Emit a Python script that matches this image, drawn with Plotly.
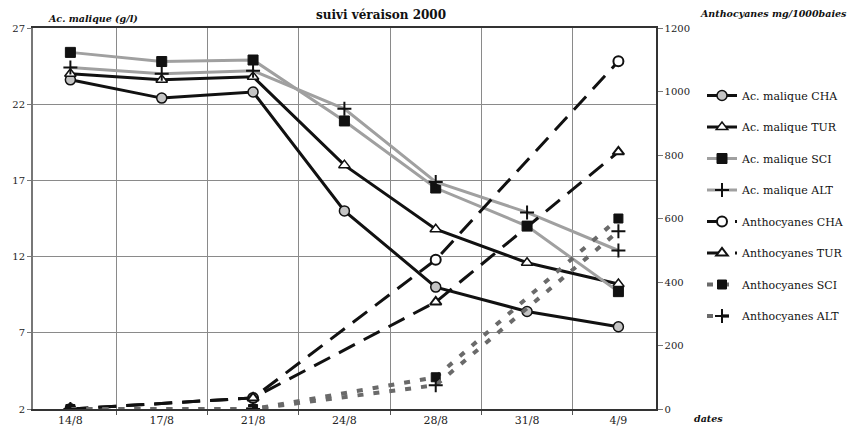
import plotly.graph_objects as go

dates = ["14/8", "17/8", "21/8", "24/8", "28/8", "31/8", "4/9"]

mal_CHA = [23.6, 22.4, 22.8, 15.0, 10.0, 8.4, 7.4]
mal_TUR = [24.0, 23.6, 23.8, 18.0, 13.8, 11.6, 10.2]
mal_SCI = [25.4, 24.8, 24.9, 20.9, 16.5, 14.0, 9.7]
mal_ALT = [24.4, 24.0, 24.2, 21.7, 16.9, 14.9, 12.4]

antho_CHA = [0, None, 35, None, 470, None, 1095]
antho_TUR = [0, None, 35, None, 337, None, 810]
antho_SCI = [0, None, 0, None, 100, None, 600]
antho_ALT = [0, None, 0, None, 75, None, 560]

SERIF = "DejaVu Serif"
BLACK = "#111111"
GRAY = "#a0a0a0"
DGRAY = "#6a6a6a"

fig = go.Figure()

def add(name, y, color, width, dash, symbol, fill, lw, size, axis="y"):
    fig.add_trace(go.Scatter(
        x=dates, y=y, name=name, mode="lines+markers", yaxis=axis,
        connectgaps=True, legendgroup=name,
        line=dict(color=color, width=width, dash=dash),
        marker=dict(symbol=symbol, size=size, color=fill,
                    line=dict(color=BLACK, width=lw)),
    ))

add("Ac. malique CHA", mal_CHA, BLACK, 3, "solid", "circle", "#c4c4c4", 1.5, 10)
add("Ac. malique TUR", mal_TUR, BLACK, 3, "solid", "triangle-up", "white", 1.5, 10)
add("Ac. malique SCI", mal_SCI, GRAY, 3, "solid", "square", BLACK, 1, 10)
add("Ac. malique ALT", mal_ALT, GRAY, 3, "solid", "cross-thin", BLACK, 2, 10)
add("Anthocyanes CHA", antho_CHA, BLACK, 3, "18px,10px", "circle", "white", 2, 10, "y2")
add("Anthocyanes TUR", antho_TUR, BLACK, 3, "18px,10px", "triangle-up", "white", 2, 10, "y2")
add("Anthocyanes SCI", antho_SCI, DGRAY, 4, "6px,10px", "square", BLACK, 1, 9, "y2")
add("Anthocyanes ALT", antho_ALT, DGRAY, 4, "6px,10px", "cross-thin", BLACK, 2, 10, "y2")

W, H = 852, 439

fig.update_layout(
    width=W, height=H,
    margin=dict(l=33, r=196, t=28, b=26),
    paper_bgcolor="white", plot_bgcolor="white",
    font=dict(family=SERIF, color=BLACK, size=11),
    showlegend=True,
    legend=dict(
        xref="container", yref="container",
        x=702 / W, y=1 - 81 / H, xanchor="left", yanchor="top",
        font=dict(family=SERIF, size=11, color=BLACK),
        tracegroupgap=12.5, bgcolor="rgba(0,0,0,0)",
        maxheight=420,
    ),
    xaxis=dict(
        type="category", tickson="boundaries",
        showgrid=True, gridcolor="#8a8a8a", gridwidth=1,
        showline=True, linecolor="#333333", linewidth=2, mirror=True,
        ticks="outside", ticklen=4, tickcolor="#555555",
        tickfont=dict(family=SERIF, size=11, color="#222222"),
    ),
    yaxis=dict(
        range=[2, 27], tick0=2, dtick=5,
        showgrid=True, gridcolor="#8a8a8a", gridwidth=1, zeroline=False,
        showline=True, linecolor="#777777", linewidth=2,
        ticks="outside", ticklen=4, tickcolor="#777777",
        tickfont=dict(family=SERIF, size=10, color="#222222"),
    ),
    yaxis2=dict(
        overlaying="y", side="right",
        range=[0, 1200], dtick=200, showgrid=False, zeroline=False,
        showline=True, linecolor="#333333", linewidth=1.5,
        ticks="outside", ticklen=5, tickcolor="#777777",
        tickfont=dict(family=SERIF, size=10, color="#222222"),
    ),
    title=dict(
        text="<b>suivi véraison 2000</b>",
        xref="container", yref="container",
        x=381 / W, y=1 - 15 / H, xanchor="center", yanchor="middle",
        font=dict(family=SERIF, size=12, color=BLACK),
    ),
)

def label(text, px, py, anchor):
    fig.add_annotation(
        text="<b><i>" + text + "</i></b>", xref="paper", yref="paper",
        x=(px - 33) / (W - 33 - 196), y=(H - 26 - py) / (H - 28 - 26),
        xanchor=anchor, yanchor="middle", showarrow=False,
        font=dict(family=SERIF, size=9.5, color=BLACK),
    )

label("Ac. malique (g/l)", 46, 18, "left")
label("Anthocyanes mg/1000baies", 698, 13, "left")
label("dates", 692, 423, "left")

fig.write_html("out.html")
